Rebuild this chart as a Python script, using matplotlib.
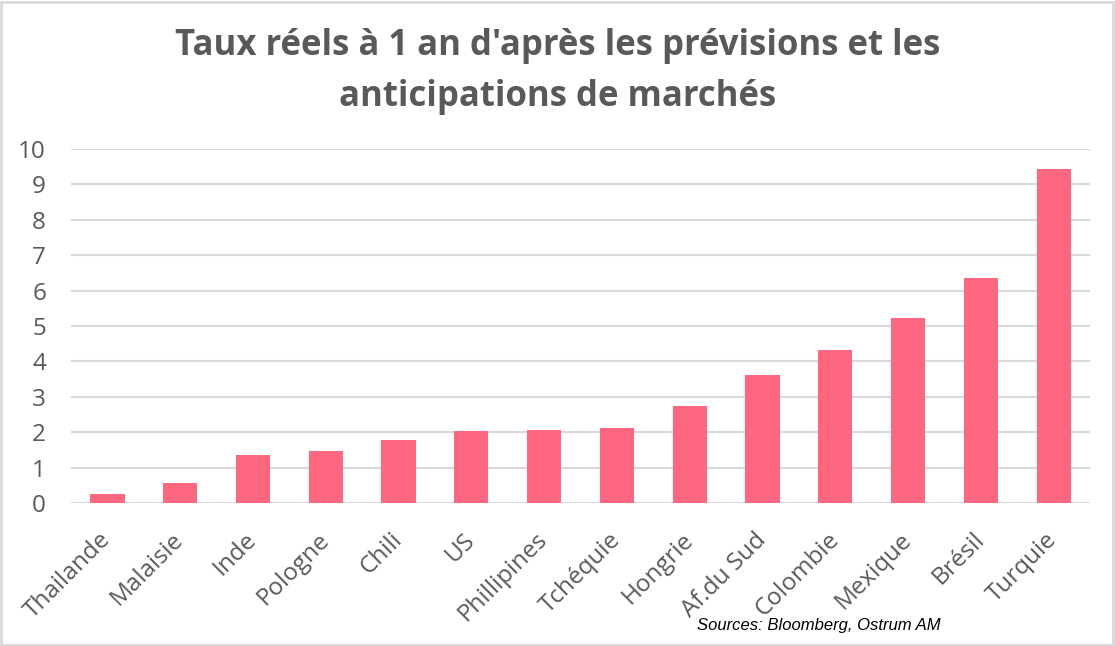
import matplotlib
matplotlib.use('Agg')
import matplotlib.pyplot as plt
from matplotlib.patches import Rectangle

STYLE = {
    'bar':   '#ff6680',
    'text':  '#595959',
    'grid':  '#d9d9d9',
    'frame': '#d9d9d9',
}

pays = ['Thailande', 'Malaisie', 'Inde', 'Pologne', 'Chili', 'US', 'Phillipines',
        'Tchéquie', 'Hongrie', 'Af.du Sud', 'Colombie', 'Mexique', 'Brésil', 'Turquie']
taux_reels = [0.25, 0.56, 1.35, 1.46, 1.77, 2.03, 2.06, 2.11, 2.73, 3.61, 4.31, 5.22, 6.35, 9.43]
y_ticks = list(range(0, 11))

plt.rcParams['font.family'] = ['Open Sans', 'DejaVu Sans']

fig = plt.figure(figsize=(11.15, 6.46), dpi=100)
ax = fig.add_axes([0.0637, 0.2214, 0.9140, 0.5479])

x = range(len(pays))
ax.bar(x, taux_reels, width=0.47, color=STYLE['bar'], zorder=3)

ax.set_xlim(-0.5, len(pays) - 0.5)
ax.set_ylim(0, 10)
ax.set_yticks(y_ticks)
ax.yaxis.grid(True, color=STYLE['grid'], linewidth=1.5, zorder=0)
ax.set_axisbelow(True)
for spine in ax.spines.values():
    spine.set_visible(False)

ax.tick_params(axis='y', length=0, pad=18, labelsize=17.5, labelcolor=STYLE['text'])
ax.tick_params(axis='x', length=0, pad=24, labelsize=17.5, labelcolor=STYLE['text'])
ax.set_xticks(list(x))
ax.set_xticklabels(pays, rotation=45, ha='right', va='center', rotation_mode='anchor')

fig.text(0.5, 0.889, "Taux réels à 1 an d'après les prévisions et les\nanticipations de marchés",
         ha='center', va='center', fontsize=25, fontweight='bold',
         color=STYLE['text'], linespacing=1.55)

fig.text(0.625, 0.032, 'Sources: Bloomberg, Ostrum AM',
         ha='left', va='center', fontsize=12, style='italic', color='black',
         family=['Liberation Sans', 'DejaVu Sans'])

fig.patches.append(Rectangle((0.001, 0.002), 0.997, 0.995, transform=fig.transFigure,
                             fill=False, edgecolor=STYLE['frame'], linewidth=2))

fig.savefig('out.png', dpi=100, facecolor='white')
